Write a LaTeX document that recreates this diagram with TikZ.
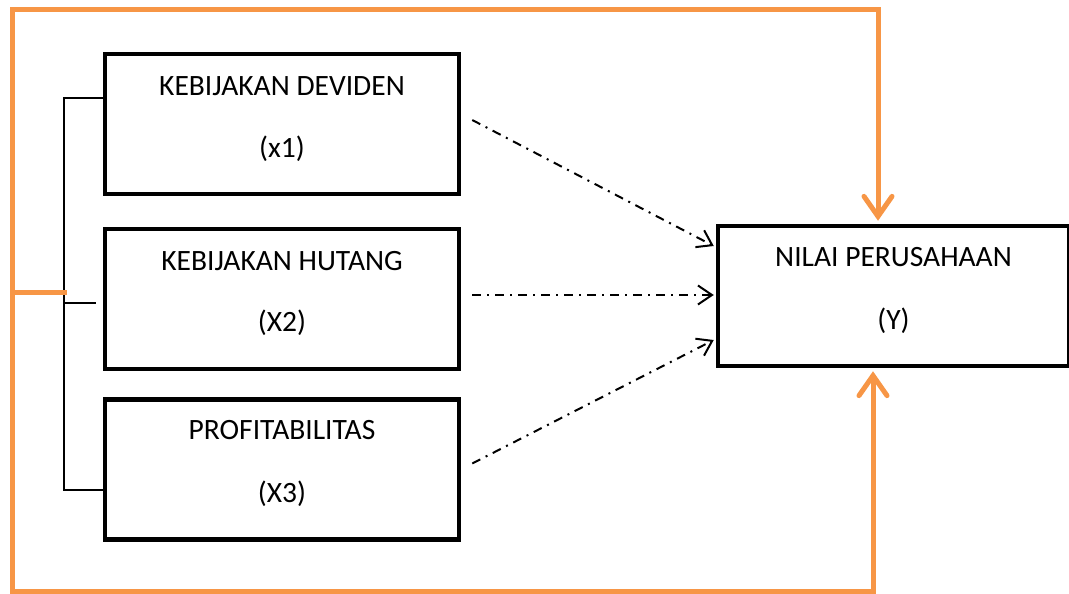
\documentclass[tikz,border=0pt]{standalone}
\usepackage{fontspec}
\setmainfont{Carlito}
\usetikzlibrary{arrows.meta}
\definecolor{feedorange}{HTML}{F79646}

\begin{document}
\begin{tikzpicture}[x=1pt,y=-1pt,
  varbox/.style={draw,line width=4.5pt,minimum width=354pt,minimum height=140pt,inner sep=0pt},
  vartext/.style={font=\fontsize{29.5}{35}\selectfont,inner sep=0pt},
  effect/.style={line width=2pt,dash pattern=on 9pt off 6pt on 2pt off 6pt,
    -{Straight Barb[length=14pt,width=19pt,line width=2pt]}},
  bracket/.style={line width=1.5pt},
  feedback/.style={draw=feedorange,line width=5pt,
    -{Straight Barb[length=20pt,width=28pt,line cap=round,line width=5pt]}}]
\useasboundingbox (0,0) rectangle (1069,594);
% independent variables
\node[varbox] (x1) at (282,124) {};
\node[varbox] (x2) at (282,299) {};
\node[varbox] (x3) at (282,469.5) {};
\node[vartext] at ([yshift=-34pt]x1.north) {KEBIJAKAN DEVIDEN};
\node[vartext] at ([yshift=47pt]x1.south) {(x1)};
\node[vartext] at ([yshift=-34pt]x2.north) {KEBIJAKAN HUTANG};
\node[vartext] at ([yshift=48pt]x2.south) {(X2)};
\node[vartext] at ([yshift=-33pt]x3.north) {PROFITABILITAS};
\node[vartext] at ([yshift=48pt]x3.south) {(X3)};
% dependent variable
\node[varbox,minimum width=351pt] (y) at (893.5,296) {};
\node[vartext] at ([yshift=-33pt]y.north) {NILAI PERUSAHAAN};
\node[vartext] at ([yshift=47pt]y.south) {(Y)};
% partial effects
\draw[effect] ([xshift=11pt,yshift=4pt]x1.east) -- ([xshift=-2pt,yshift=50pt]y.west);
\draw[effect] ([xshift=11pt,yshift=4pt]x2.east) -- ([xshift=-2pt,yshift=1pt]y.west);
\draw[effect] ([xshift=11pt,yshift=6pt]x3.east) -- ([xshift=-2pt,yshift=-44pt]y.west);
% bracket
\draw[bracket] ([yshift=26pt]x1.west) -- ++(-39,0) coordinate (brtop) |- ([yshift=-20.5pt]x3.west);
\draw[bracket] ([xshift=-7pt,yshift=-4pt]x2.west) -| (brtop);
% simultaneous effect
\coordinate (join) at (67,292);
\coordinate (lefttop) at (12,10);
\coordinate (leftbot) at (12,591);
\draw[feedback] (join) -| (lefttop) -| ([xshift=-15.5pt,yshift=3pt]y.north);
\draw[feedback] (join) -| (leftbot) -| ([xshift=-20.5pt,yshift=-3pt]y.south);
\end{tikzpicture}
\end{document}
